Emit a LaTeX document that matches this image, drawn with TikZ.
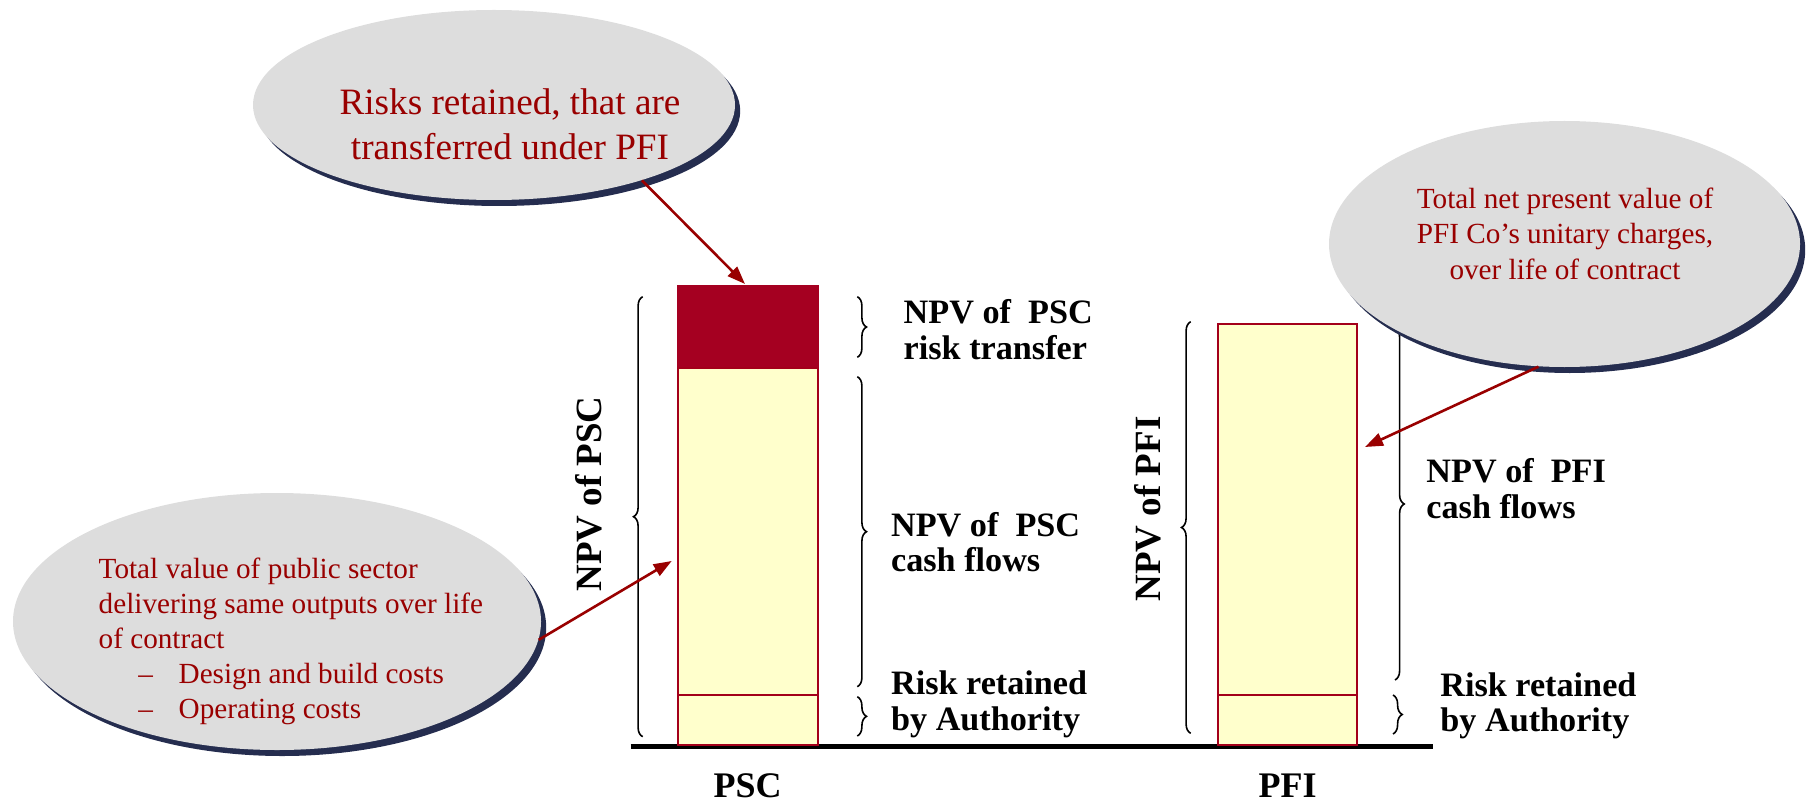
\documentclass[tikz,border=0pt]{standalone}
\usepackage{fontspec}
\setmainfont{Liberation Serif}
\usetikzlibrary{arrows.meta,decorations.pathreplacing,shapes.geometric,shadows,fit}
\definecolor{bubblefill}{HTML}{DDDDDD}
\definecolor{bubbleshade}{HTML}{252D4F}
\definecolor{notered}{HTML}{990000}
\definecolor{riskred}{HTML}{A50021}
\definecolor{baredge}{HTML}{A3001A}
\definecolor{cashyellow}{HTML}{FFFFCC}
\begin{document}
\begin{tikzpicture}[x=0.5pt,y=-0.5pt,
  bubble/.style={ellipse, fill=bubblefill, inner sep=0pt,
    drop shadow={shadow xshift=2.6pt, shadow yshift=-3pt, fill=bubbleshade, opacity=1}},
  bubbletext/.style={text=notered, inner sep=0pt},
  callout/.style={draw=notered, line width=1.3pt, -{Triangle[length=9pt,width=6.5pt]}},
  barrisk/.style={rectangle, fill=riskred, draw=riskred, line width=1pt, inner sep=0pt},
  barcash/.style={rectangle, fill=cashyellow, draw=baredge, line width=1pt, inner sep=0pt},
  groundline/.style={line width=2.6pt, black},
  curly/.style={decorate, decoration={brace, amplitude=4.6pt}, line width=0.8pt},
  sidelabel/.style={anchor=base west, align=left, inner sep=0pt,
    font=\fontsize{17.1pt}{17.75pt}\selectfont\bfseries},
  totallabel/.style={anchor=base, rotate=90, inner sep=0pt,
    font=\fontsize{18.5pt}{20pt}\selectfont\bfseries},
  barname/.style={anchor=base, inner sep=0pt,
    font=\fontsize{18pt}{20pt}\selectfont\bfseries}
]
\useasboundingbox (0,0) rectangle (1813,802);

% ground line under both columns
\coordinate (gL) at (630.7,746.7);
\coordinate (gR) at (1433.3,746.7);
\draw[groundline] (gL) -- (gR);

% PSC column
\node[barrisk, fit={(677.7,286) (817.7,368.3)}] (pscRisk) {};
\node[barcash, fit={(677.7,368.3) (817.7,695)}] (pscCash) {};
\node[barcash, fit={(677.7,695) (817.7,745)}] (pscKept) {};

% PFI column
\node[barcash, fit={(1217.7,324) (1357.3,694.5)}] (pfiCash) {};
\node[barcash, fit={(1217.7,694.5) (1357.3,745)}] (pfiKept) {};

% braces
\coordinate (pscTotB) at (642.7,736.7);
\coordinate (pscTotT) at (642.7,296.7);
\draw[curly] (pscTotB) -- (pscTotT);
\coordinate (rtT) at (857.3,296.7);
\coordinate (rtB) at (857.3,357.3);
\draw[curly] (rtT) -- (rtB);
\coordinate (cfT) at (857.3,376.7);
\coordinate (cfB) at (857.3,686.7);
\draw[curly] (cfT) -- (cfB);
\coordinate (rrT) at (857.3,696.7);
\coordinate (rrB) at (857.3,736);
\draw[curly] (rrT) -- (rrB);
\coordinate (pfiTotB) at (1190.7,733.3);
\coordinate (pfiTotT) at (1190.7,321.7);
\draw[curly] (pfiTotB) -- (pfiTotT);
\coordinate (pcfT) at (1395,328);
\coordinate (pcfB) at (1395,680);
\draw[curly] (pcfT) -- (pcfB);
\coordinate (prrT) at (1393,695);
\coordinate (prrB) at (1393,734);
\draw[curly] (prrT) -- (prrB);

% labels beside the braces (anchored on the baseline of the last line)
\node[sidelabel] (rtLabel) at (903.3,359.3) {NPV of\ \ PSC\\risk transfer};
\node[sidelabel] (cfLabel) at (890.7,571.7) {NPV of\ \ PSC\\cash flows};
\node[sidelabel] (rrLabel) at (890.7,730) {Risk retained\\by Authority};
\node[sidelabel] (pcfLabel) at (1426,518.3) {NPV of\ \ PFI\\cash flows};
\node[sidelabel] (prrLabel) at (1440,731.7) {Risk retained\\by Authority};

\node[totallabel] (pscTotal) at (601.7,494) {NPV of PSC};
\node[totallabel] (pfiTotal) at (1160,509) {NPV of PFI};

\node[barname] (pscName) at (747.7,797.5) {PSC};
\node[barname] (pfiName) at (1287.5,797.5) {PFI};

% call-out bubbles
\node[bubble, minimum width=241pt, minimum height=95pt] (topBubble) at (494,105) {};
\node[bubbletext, anchor=base, align=center,
  font=\fontsize{18.6pt}{22.5pt}\selectfont] (topText) at (510,160)
  {Risks retained, that are\\transferred under PFI};

\node[bubble, minimum width=235.5pt, minimum height=123pt] (rightBubble) at (1564.5,244) {};
\node[bubbletext, anchor=base, align=center,
  font=\fontsize{14.6pt}{17.65pt}\selectfont] (rightText) at (1565,279)
  {Total net present value of\\PFI Co’s unitary charges,\\over life of contract};

\node[bubble, minimum width=264pt, minimum height=128.5pt] (leftBubble) at (277,621.5) {};
\node[bubbletext, anchor=base west, align=left,
  font=\fontsize{14.6pt}{17.5pt}\selectfont] (leftText) at (98.3,718.3)
  {Total value of public sector\\delivering same outputs over life\\of contract\\
   \hspace*{19.85pt}\makebox[20.15pt][l]{–}Design and build costs\\
   \hspace*{19.85pt}\makebox[20.15pt][l]{–}Operating costs};

% call-out arrows
\coordinate (topTip) at (745,284);
\coordinate (leftTip) at (671.7,561);
\coordinate (rightTip) at (1365,447);
\draw[callout] (topBubble.-27) -- (topTip);
\draw[callout] (leftBubble.-4.4) -- (leftTip);
\draw[callout] (rightBubble.258.3) -- (rightTip);
\end{tikzpicture}
\end{document}
